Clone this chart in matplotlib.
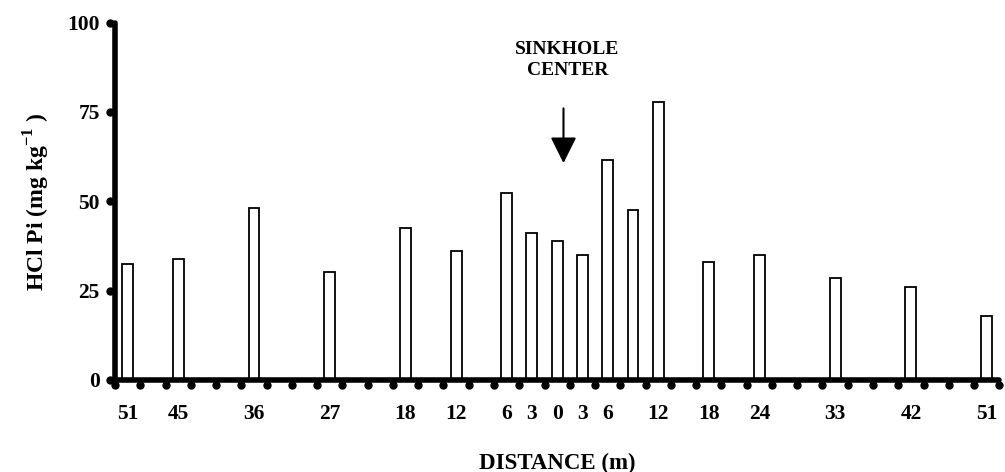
import numpy as np
import matplotlib
matplotlib.use("Agg")
import matplotlib.pyplot as plt
from matplotlib.transforms import offset_copy

# slot index of each bar along the transect, its label and HCl Pi value
slots = [0, 2, 5, 8, 11, 13, 15, 16, 17, 18, 19, 20, 21, 23, 25, 28, 31, 34]
labels = ["51", "45", "36", "27", "18", "12", "6", "3", "0", "3", "6", "",
          "12", "18", "24", "33", "42", "51"]
hcl_pi = [32.5, 33.8, 48.2, 30.2, 42.5, 36.0, 52.3, 41.2, 39.0, 34.9, 61.7,
          47.6, 77.9, 33.0, 34.9, 28.4, 26.1, 18.0]
n_slots = 35

plt.rcParams['font.family'] = ['Liberation Serif', 'DejaVu Serif']
plt.rcParams['font.weight'] = 'bold'
plt.rcParams['mathtext.fontset'] = 'custom'
plt.rcParams['mathtext.bf'] = 'Liberation Serif:bold'

fig = plt.figure(figsize=(10.05, 4.72), dpi=100)
ax = fig.add_axes([0.1144, 0.195, 0.880, 0.757])

x = np.array(slots) + 0.5
ax.bar(x, hcl_pi, width=0.43, color='white', edgecolor='black', linewidth=1.3, zorder=2)

ax.set_xlim(0, n_slots)
ax.set_ylim(0, 100)

for s in ['top', 'right']:
    ax.spines[s].set_visible(False)
for s in ['left', 'bottom']:
    ax.spines[s].set_linewidth(4)
    ax.spines[s].set_capstyle('round')

ax.set_xticks(x)
ax.set_xticklabels(labels, fontsize=15.5, fontweight='bold')
ax.tick_params(axis='x', length=0, pad=17)
ax.set_yticks([0, 25, 50, 75, 100])
ax.tick_params(axis='y', length=0, pad=11, labelsize=15.5)

# round tick marks
xt = np.arange(n_slots + 1)
tx = offset_copy(ax.get_xaxis_transform(), fig=fig, x=0, y=-5, units='dots')
ax.plot(xt, np.zeros_like(xt), 'o', ms=5, color='black', transform=tx, clip_on=False)
ty = offset_copy(ax.get_yaxis_transform(), fig=fig, x=-5, y=0, units='dots')
yt = np.array([0, 25, 50, 75, 100])
ax.plot(np.zeros_like(yt), yt, 'o', ms=5, color='black', transform=ty, clip_on=False)

ax.set_xlabel('DISTANCE (m)', fontsize=16.5, fontweight='bold', labelpad=21)
ax.set_ylabel(r'HCl Pi (mg kg$^{\mathbf{-1}}$ )', fontsize=17, fontweight='bold', labelpad=11)

ax.annotate('', xy=(17.75, 60.7), xytext=(17.75, 76),
            arrowprops=dict(arrowstyle='-|>,head_length=0.4,head_width=0.2',
                            mutation_scale=40, color='black', lw=1.5,
                            shrinkA=0, shrinkB=0))
ax.text(17.9, 89.5, 'SINKHOLE\nCENTER', ha='center', va='center',
        fontsize=14, fontweight='bold', linespacing=1.3)

fig.savefig('out.png', dpi=100)
